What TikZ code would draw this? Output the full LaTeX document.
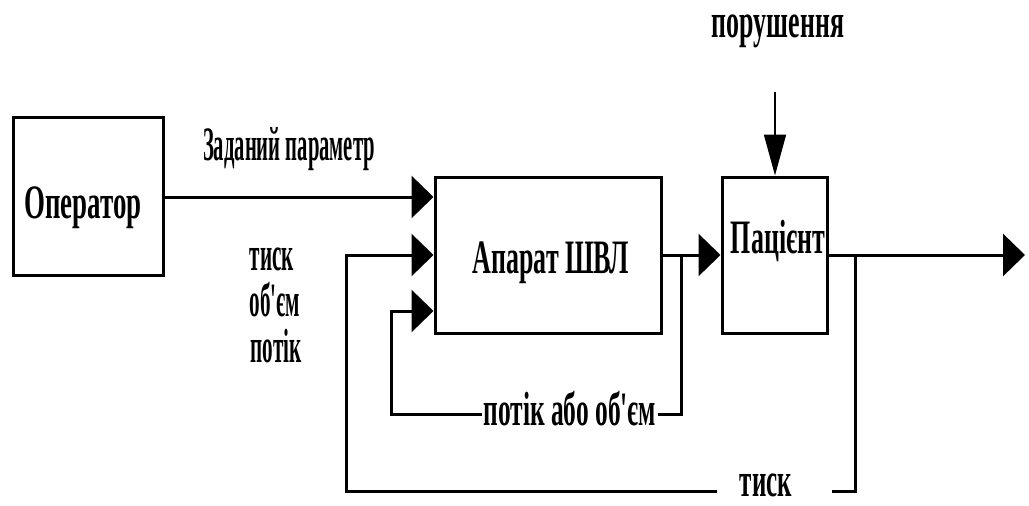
\documentclass[tikz,border=0pt]{standalone}
\usepackage{fontspec}
\setmainfont{Liberation Serif}
\usetikzlibrary{arrows.meta,calc}
\newcommand{\sqz}[2]{\scalebox{#1}[1]{\bfseries #2}}
\newcommand{\apos}{\textquotesingle}
\begin{document}
\begin{tikzpicture}[x=1pt,y=-1pt,
  every node/.style={font=\fontsize{48}{50}\selectfont},
  blk/.style={draw,line width=3pt,inner sep=0pt},
  lbl/.style={inner sep=0pt,anchor=base},
  conn/.style={line width=3pt},
  arr/.style={line width=3pt,-{Triangle[length=22pt,width=42pt]}},
  darr/.style={line width=1.8pt,-{Triangle[length=41pt,width=22pt]}}]
\useasboundingbox (0,0) rectangle (1029,506);
% blocks
\node[blk,minimum width=150pt,minimum height=158pt] (op) at (88,196) {};
\node[blk,minimum width=226pt,minimum height=156pt] (ap) at (548,255) {};
\node[blk,minimum width=105pt,minimum height=156pt] (pa) at (774.5,255) {};
\node[lbl] (opt) at (83,218) {\sqz{0.56}{Оператор}};
\node[lbl] (apt) at (551,273) {\sqz{0.54}{Апарат ШВЛ}};
\node[lbl] (pat) at (778,253) {\sqz{0.54}{Пацієнт}};
% labels
\node[lbl] (zp) at (289,160) {\sqz{0.43}{Заданий параметр}};
\node[lbl] (l1) at (272,270) {\sqz{0.44}{тиск}};
\node[lbl] (l2) at (275,316) {\sqz{0.44}{об\apos єм}};
\node[lbl] (l3) at (276,362) {\sqz{0.44}{потік}};
\node[lbl] (por) at (778,37) {\sqz{0.54}{порушення}};
\node[inner sep=0pt,fill=white,minimum width=175pt,minimum height=30pt] (fl) at (570,414) {};
\node[lbl] (flt) at (570,425) {\sqz{0.53}{потік або об\apos єм}};
\node[inner sep=0pt,minimum width=115pt,minimum height=30pt] (tk) at (774.5,491) {};
\node[lbl] (tkt) at (766,496) {\sqz{0.52}{тиск}};
% coordinates
\coordinate (fb1) at (391,411);
\coordinate (fb2) at (346,491);
\coordinate (j1) at (681,255);
\coordinate (j2) at (855,255);
\coordinate (out) at (1025,255);
\coordinate (dtop) at (775,92);
% connectors
\draw[arr] (op.east |- 0,197) -- (ap.west |- 0,197);
\draw[arr] (ap.east) -- (pa.west);
\draw[arr] (pa.east) -- (out);
\draw[darr] (dtop) -- (dtop |- pa.north);
\draw[conn] (j1) |- (fl.east);
\draw[arr] (fl.west) -| (fb1) |- (ap.west |- 0,311);
\draw[conn] (j2) |- (tk.east);
\draw[arr] (tk.west) -| (fb2) |- (ap.west);
\end{tikzpicture}
\end{document}
